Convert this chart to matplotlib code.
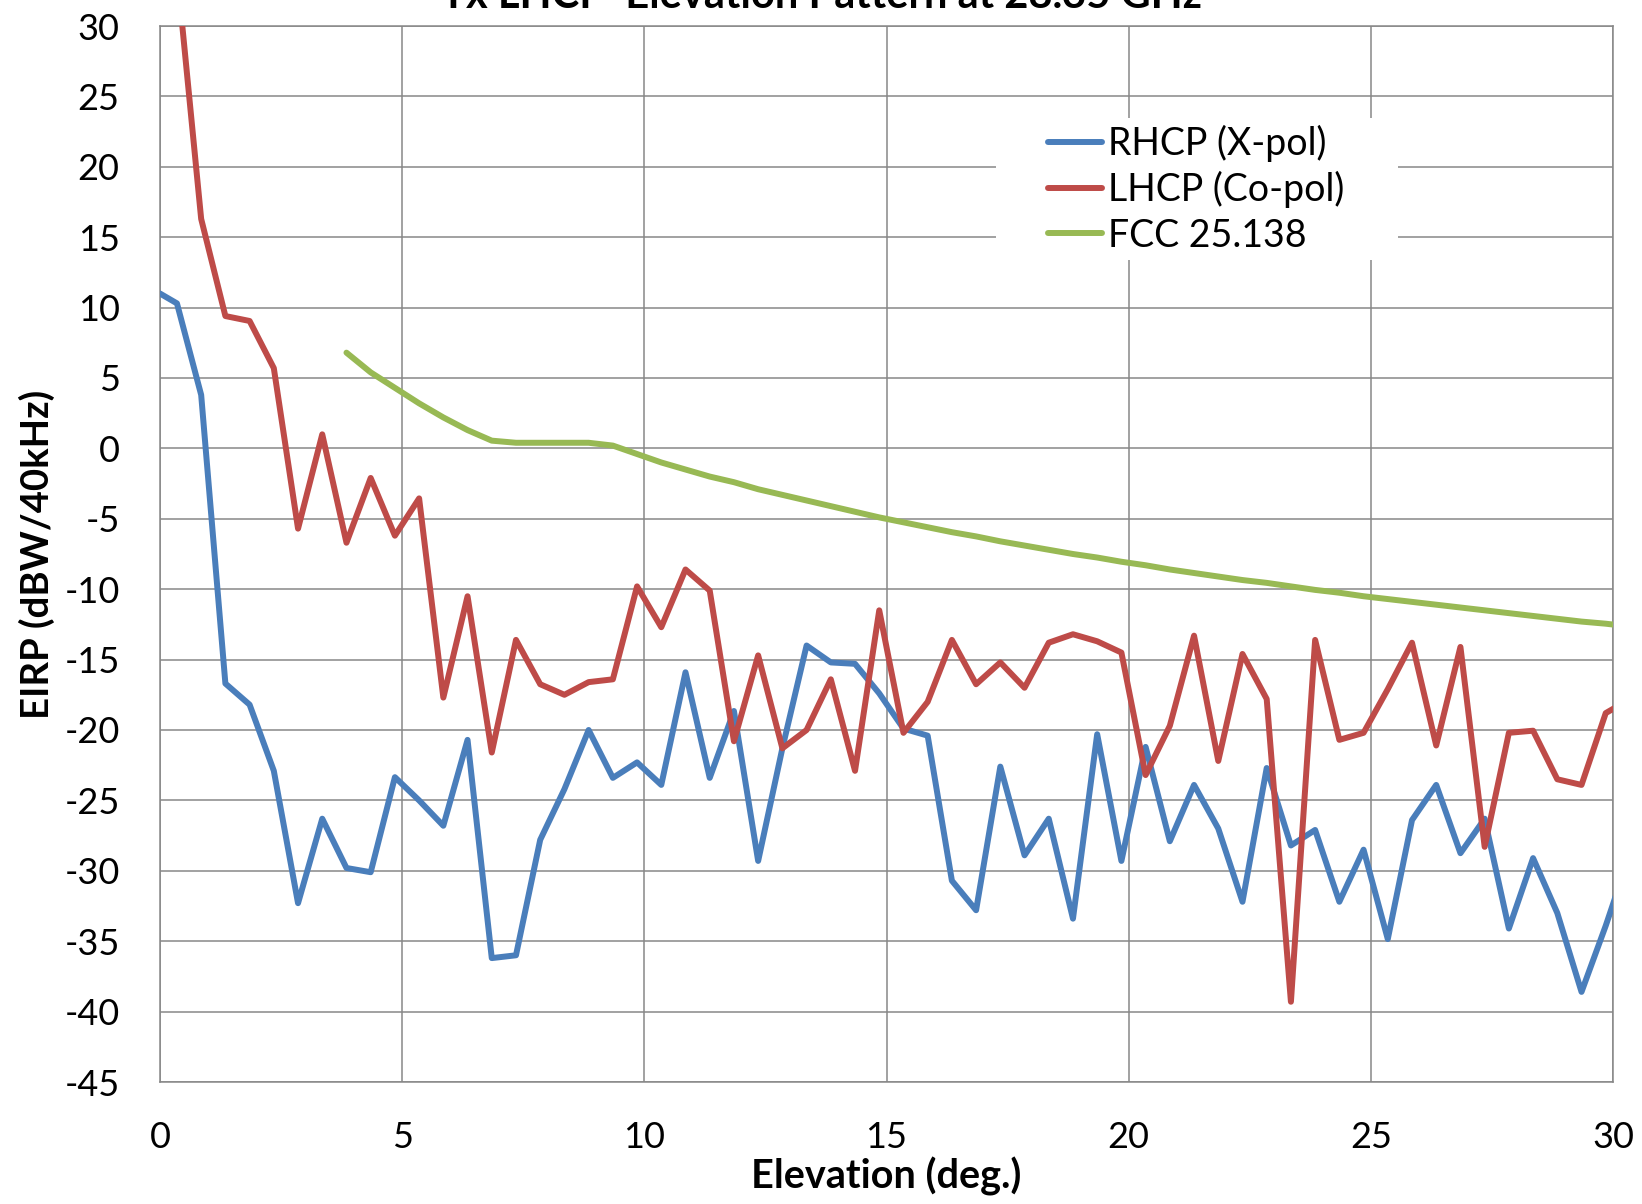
import matplotlib
matplotlib.use("Agg")
import matplotlib.pyplot as plt
from matplotlib.patches import Rectangle

plt.rcParams['font.family'] = ['Lato', 'DejaVu Sans']
plt.rcParams['axes.unicode_minus'] = False

# elevation samples (deg.)
elevation = [0, 0.35, 0.85, 1.35, 1.85, 2.35, 2.85, 3.35, 3.85, 4.35,
             4.85, 5.35, 5.85, 6.35, 6.85, 7.35, 7.85, 8.35, 8.85, 9.35,
             9.85, 10.35, 10.85, 11.35, 11.85, 12.35, 12.85, 13.35, 13.85, 14.35,
             14.85, 15.35, 15.85, 16.35, 16.85, 17.35, 17.85, 18.35, 18.85, 19.35,
             19.85, 20.35, 20.85, 21.35, 21.85, 22.35, 22.85, 23.35, 23.85, 24.35,
             24.85, 25.35, 25.85, 26.35, 26.85, 27.35, 27.85, 28.35, 28.85, 29.35,
             29.85, 30.35]

rhcp = [11.0, 10.3, 3.8, -16.7, -18.2, -22.9, -32.3, -26.3, -29.8, -30.1,
        -23.35, -25.0, -26.8, -20.7, -36.2, -36.0, -27.8, -24.2, -20.0, -23.4,
        -22.3, -23.9, -15.9, -23.4, -18.65, -29.3, -21.3, -14.0, -15.2, -15.3,
        -17.4, -19.9, -20.4, -30.7, -32.8, -22.6, -28.9, -26.3, -33.4, -20.3,
        -29.3, -21.2, -27.9, -23.9, -27.0, -32.2, -22.7, -28.2, -27.1, -32.2,
        -28.5, -34.85, -26.4, -23.9, -28.75, -26.3, -34.1, -29.1, -33.0, -38.6,
        -33.9, -28.8]

lhcp = [40.0, 33.9, 16.3, 9.4, 9.05, 5.7, -5.7, 1.0, -6.7, -2.1,
        -6.2, -3.55, -17.7, -10.5, -21.6, -13.6, -16.75, -17.5, -16.6, -16.4,
        -9.8, -12.7, -8.6, -10.1, -20.8, -14.7, -21.3, -20.0, -16.4, -22.9,
        -11.5, -20.2, -18.0, -13.6, -16.75, -15.2, -17.0, -13.8, -13.2, -13.7,
        -14.5, -23.2, -19.7, -13.3, -22.2, -14.6, -17.8, -39.3, -13.6, -20.7,
        -20.2, -17.1, -13.8, -21.1, -14.1, -28.3, -20.2, -20.05, -23.5, -23.9,
        -18.8, -17.8]

# FCC 25.138 mask, starts at 3.85 deg
fcc_elevation = elevation[8:]
fcc = [6.8, 5.4, 4.3, 3.2, 2.2, 1.3, 0.55, 0.4, 0.4, 0.4,
       0.4, 0.2, -0.4, -1.0, -1.5, -2.0, -2.4, -2.9, -3.3, -3.7,
       -4.1, -4.5, -4.9, -5.25, -5.6, -5.95, -6.25, -6.6, -6.9, -7.2,
       -7.5, -7.75, -8.05, -8.3, -8.6, -8.85, -9.1, -9.35, -9.55, -9.8,
       -10.05, -10.25, -10.5, -10.7, -10.9, -11.1, -11.3, -11.5, -11.7, -11.9,
       -12.1, -12.3, -12.45, -12.65]

W, H = 1642, 1204
fig = plt.figure(figsize=(W / 100, H / 100), dpi=100)
ax = fig.add_axes([160 / W, 1 - 1082 / H, 1453 / W, 1056 / H])

gris = '#878787'
lw = 4.3
ax.plot(elevation, rhcp, color='#4A7EBB', lw=lw, label='RHCP (X-pol)',
        solid_joinstyle='round', solid_capstyle='round', zorder=3)
ax.plot(elevation, lhcp, color='#BE4B48', lw=lw, label='LHCP (Co-pol)',
        solid_joinstyle='round', solid_capstyle='round', zorder=3)
ax.plot(fcc_elevation, fcc, color='#98B954', lw=lw, label='FCC 25.138',
        solid_joinstyle='round', solid_capstyle='round', zorder=3)

ax.set_xlim(0, 30)
ax.set_ylim(-45, 30)
ax.set_xticks(range(0, 31, 5))
ax.set_yticks(range(-45, 31, 5))
ax.set_axisbelow(True)
ax.grid(True, color=gris, lw=1.1)
for s in ax.spines.values():
    s.set_color(gris)
    s.set_linewidth(1.1)
ax.tick_params(axis='both', length=0, labelsize=26, colors='black')
ax.tick_params(axis='x', pad=28)
ax.tick_params(axis='y', pad=29)

ax.set_xlabel('Elevation (deg.)', fontsize=28.5, fontweight='bold')
ax.set_ylabel('EIRP (dBW/40kHz)', fontsize=27.5, fontweight='bold')
ax.xaxis.set_label_coords(0.5, -0.071)
ax.yaxis.set_label_coords(-0.072, 0.5)

# white block behind the legend (covers the grid, as in the original)
ax.add_patch(Rectangle((996 / W, 1 - 260 / H), 402 / W, 142 / H,
                       transform=fig.transFigure, facecolor='white',
                       edgecolor='none', zorder=1))
ax.legend(loc='center left', bbox_to_anchor=(1048 / W, 1 - 189 / H),
          bbox_transform=fig.transFigure, frameon=False, fontsize=27,
          borderpad=0, borderaxespad=0, handlelength=1.45,
          handletextpad=0.15, labelspacing=0.25)

fig.text(0.5, 1 - 8 / H, 'Tx LHCP  Elevation Pattern at 28.35 GHz',
         ha='center', va='baseline', fontsize=30, fontweight='bold')

fig.savefig('out.png', dpi=100)
